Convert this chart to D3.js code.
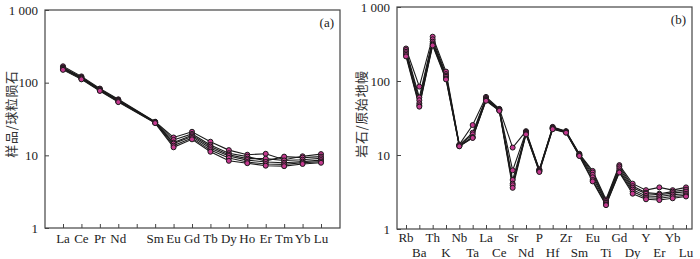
<!DOCTYPE html>
<html>
<head>
<meta charset="utf-8">
<script src="https://cdn.jsdelivr.net/npm/d3@7"></script>
<style>
  body { margin: 0; background: #fff; }
  svg { display: block; }
</style>
</head>
<body>
<script>
// chondrite-normalised REE (Pm slot left empty)
const reeElements = ["La", "Ce", "Pr", "Nd", "Pm", "Sm", "Eu", "Gd", "Tb", "Dy", "Ho", "Er", "Tm", "Yb", "Lu"]
const reeS1 = [168, 122, 83, 59, null, 29, 17.6, 21.1, 15.4, 11.8, 10.2, 10.5, 8.7, 9.7, 10.4]
const reeS2 = [162, 119, 81, 58, null, 28.8, 16.3, 19.7, 13.9, 10.7, 9.6, 8.4, 9.6, 9.3, 9.6]
const reeS3 = [159, 117, 80, 57, null, 28.5, 15.0, 18.9, 13.2, 10.2, 9.0, 9.0, 8.5, 8.7, 9.1]
const reeS4 = [156, 115, 79, 56, null, 28.3, 14.5, 18.1, 12.5, 9.8, 8.6, 8.1, 7.9, 8.2, 8.6]
const reeS5 = [153, 113, 78, 55, null, 28.1, 13.6, 17.3, 11.8, 9.2, 8.1, 7.6, 7.5, 7.9, 8.2]
const reeS6 = [150, 111, 77, 54, null, 27.8, 12.9, 16.6, 11.2, 8.4, 7.8, 7.2, 7.1, 7.6, 7.9]

// primitive-mantle normalised trace elements
const spiderElements = ["Rb", "Ba", "Th", "K", "Nb", "Ta", "La", "Ce", "Sr", "Nd", "P", "Hf", "Zr", "Sm", "Eu", "Ti", "Gd", "Dy", "Y", "Er", "Yb", "Lu"]
const spS1 = [275, 84, 397, 134, 13.8, 25.4, 61, 42, 12.6, 21, 6.4, 24, 21, 10.4, 6.1, 2.5, 7.3, 4.1, 3.35, 3.65, 3.35, 3.65]
const spS2 = [262, 60, 366, 124, 13.6, 20, 59, 41.5, 6.2, 20.5, 6.3, 23.5, 20.8, 10.2, 5.8, 2.4, 7.0, 3.8, 3.1, 3.0, 3.2, 3.4]
const spS3 = [248, 55, 340, 118, 13.4, 19, 57, 41, 4.6, 20, 6.2, 23.2, 20.6, 10, 5.4, 2.3, 6.6, 3.6, 3.0, 2.9, 3.05, 3.2]
const spS4 = [236, 50, 322, 114, 13.3, 17.5, 56, 40.5, 4.1, 19.6, 6.1, 22.9, 20.4, 9.9, 5.0, 2.25, 6.2, 3.4, 2.8, 2.75, 2.9, 3.0]
const spS5 = [225, 47, 310, 108, 13.2, 17.2, 55, 40, 3.9, 19.3, 6.0, 22.6, 20.2, 9.8, 4.6, 2.15, 5.9, 3.2, 2.65, 2.6, 2.75, 2.85]
const spS6 = [215, 45, 302, 105, 13.1, 17, 54, 39.5, 3.6, 19, 5.9, 22.3, 20, 9.7, 4.4, 2.1, 5.8, 3.0, 2.52, 2.46, 2.6, 2.75]

const yTickValues = [1, 10, 100, 1000]
const yTickLabels = ["1", "10", "100", "1 000"]

const serif = "'Liberation Serif', 'Times New Roman', 'DejaVu Serif', serif"

const svg = d3.select("body").append("svg").attr("width", 700).attr("height", 259)

function drawPanel(opts) {
    const { left, right, top, bottom, elements, series, tag, ylabel, ylabX, ylabY, twoRows, xFirst, xLast } = opts
    const g = svg.append("g")

    const x = d3.scalePoint().domain(elements).range([xFirst, xLast])
    const y = d3.scaleLog().domain([1, 1000]).range([bottom, top])

    // frame
    g.append("rect")
        .attr("x", left).attr("y", top)
        .attr("width", right - left).attr("height", bottom - top)
        .attr("fill", "none").attr("stroke", "#444").attr("stroke-width", 1.2)

    // y ticks (inward) + labels
    const yAxis = d3.axisLeft(y).tickValues(yTickValues).tickSize(-4)
        .tickFormat((d, i) => yTickLabels[i]).tickPadding(7)
    const ya = g.append("g").attr("transform", `translate(${left},0)`).call(yAxis)
        .attr("font-family", serif).attr("font-size", 13)
    ya.select(".domain").remove()
    ya.selectAll("line").attr("stroke", "#444")
    ya.selectAll("text").attr("fill", "#222")

    // x ticks (inward)
    const xAxis = d3.axisBottom(x).tickSize(-4).tickFormat("")
    const xa = g.append("g").attr("transform", `translate(0,${bottom})`).call(xAxis)
    xa.select(".domain").remove()
    xa.selectAll("line").attr("stroke", "#444")

    g.selectAll("text.xl")
        .data(elements.filter((d) => d !== "Pm"))
        .join("text")
        .attr("class", "xl")
        .attr("font-family", serif)
        .attr("font-size", 13)
        .attr("fill", "#222")
        .attr("text-anchor", "middle")
        .attr("x", (d) => x(d))
        .attr("y", (d) => {
            if (!twoRows) return bottom + 15
            return elements.indexOf(d) % 2 === 0 ? bottom + 13 : bottom + 28
        })
        .text((d) => d)

    const line = d3.line()
        .x((d) => x(d[0]))
        .y((d) => y(d[1]))

    series.forEach((vals) => {
        const pts = elements.map((e, i) => [e, vals[i]]).filter((p) => p[1] != null)
        g.append("path")
            .datum(pts)
            .attr("d", line)
            .attr("fill", "none")
            .attr("stroke", "#1a1a1a")
            .attr("stroke-width", 1.1)
    })

    // markers on top of all lines
    series.forEach((vals) => {
        const pts = elements.map((e, i) => [e, vals[i]]).filter((p) => p[1] != null)
        g.selectAll(null)
            .data(pts)
            .join("circle")
            .attr("cx", (d) => x(d[0]))
            .attr("cy", (d) => y(d[1]))
            .attr("r", 2.5)
            .attr("fill", "#c4398f")
            .attr("stroke", "#1a1a1a")
            .attr("stroke-width", 1)
    })

    g.append("text")
        .attr("font-family", serif)
        .attr("font-size", 13)
        .attr("fill", "#222")
        .attr("text-anchor", "end")
        .attr("x", right - 6)
        .attr("y", top + 17)
        .text(tag)

    g.append("text")
        .attr("font-family", "'Noto Sans CJK SC', sans-serif")
        .attr("font-size", 13)
        .attr("letter-spacing", 0.6)
        .attr("fill", "#333")
        .attr("text-anchor", "middle")
        .attr("transform", `translate(${ylabX},${ylabY}) rotate(-90)`)
        .text(ylabel)
}

drawPanel({
    left: 45, right: 340, top: 10, bottom: 228,
    elements: reeElements,
    series: [reeS1, reeS2, reeS3, reeS4, reeS5, reeS6],
    tag: "(a)", ylabel: "样品/球粒陨石", ylabX: 16, ylabY: 114,
    twoRows: false, xFirst: 63, xLast: 321
})

drawPanel({
    left: 397, right: 692, top: 7, bottom: 229,
    elements: spiderElements,
    series: [spS1, spS2, spS3, spS4, spS5, spS6],
    tag: "(b)", ylabel: "岩石/原始地幔", ylabX: 366, ylabY: 114,
    twoRows: true, xFirst: 406, xLast: 686
})
</script>
</body>
</html>
